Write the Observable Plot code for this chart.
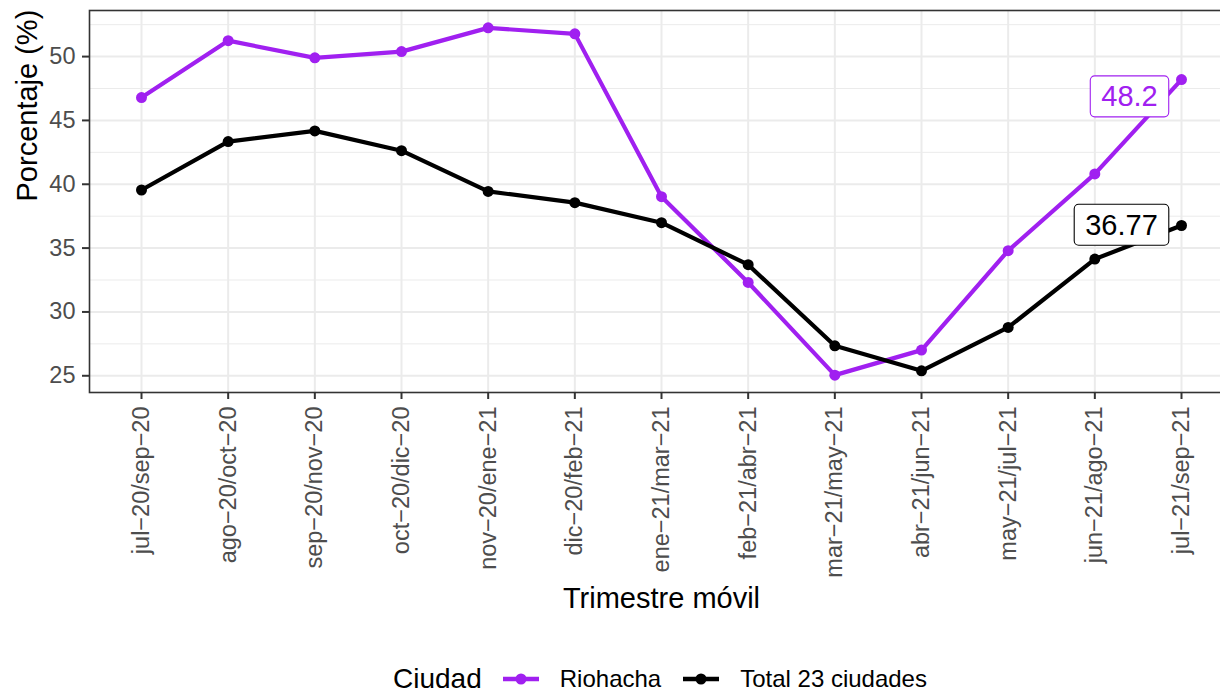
<!DOCTYPE html>
<html><head><meta charset="utf-8">
<script src="https://cdn.jsdelivr.net/npm/d3@7"></script>
<script src="https://cdn.jsdelivr.net/npm/@observablehq/plot@0.6"></script>
<style>
body{margin:0;background:#fff;font-family:"Liberation Sans",Arial,Helvetica,sans-serif;}
#wrap{position:relative;width:1220px;height:695px;overflow:hidden;background:#fff;}
#legend{position:absolute;left:100px;top:661px;width:1120px;height:36px;display:flex;align-items:center;justify-content:center;color:#000;line-height:1;}
#legend .title{font-size:28px;margin-right:20px;}
#legend .lab{font-size:24px;margin-left:20px;margin-right:21px;}
#legend .lab:last-child{margin-right:0;}
#legend svg{display:block;}
</style></head><body>
<div id="wrap"><div id="chart"></div><div id="legend"></div></div>
<script>
const periods = ["jul−20/sep−20","ago−20/oct−20","sep−20/nov−20","oct−20/dic−20","nov−20/ene−21","dic−20/feb−21","ene−21/mar−21","feb−21/abr−21","mar−21/may−21","abr−21/jun−21","may−21/jul−21","jun−21/ago−21","jul−21/sep−21"];
const riohacha = [46.79, 51.25, 49.9, 50.39, 52.25, 51.78, 39.03, 32.31, 25.05, 27.01, 34.8, 40.81, 48.2];
const total = [39.55, 43.34, 44.18, 42.63, 39.44, 38.56, 36.99, 33.7, 27.35, 25.39, 28.79, 34.14, 36.77];
const seriesNames = ["Riohacha", "Total 23 ciudades"];
const seriesColors = ["#A020F0", "#000000"];
const yMajor = [25, 30, 35, 40, 45, 50];
const yMinor = [27.5, 32.5, 37.5, 42.5, 47.5, 52.5];
const xTitle = "Trimestre móvil";
const yTitle = "Porcentaje (%)";
const legendTitle = "Ciudad";

const rows = [
  ...periods.map((p, i) => ({periodo: p, ciudad: seriesNames[0], valor: riohacha[i]})),
  ...periods.map((p, i) => ({periodo: p, ciudad: seriesNames[1], valor: total[i]}))
];
const lastP = periods[periods.length - 1];
const lastRio = rows.filter(d => d.ciudad === seriesNames[0] && d.periodo === lastP);
const lastTot = rows.filter(d => d.ciudad === seriesNames[1] && d.periodo === lastP);
const ext = d3.extent(rows, d => d.valor);
const pad = (ext[1] - ext[0]) * 0.05;
const font = "'Liberation Sans', Arial, Helvetica, sans-serif";

const chart = Plot.plot({
  width: 1233, height: 640,
  marginLeft: 89, marginRight: 0, marginTop: 10, marginBottom: 248,
  style: {fontFamily: font, fontSize: "23.5px", background: "white", color: "#000", maxWidth: "none"},
  x: {type: "point", domain: periods, padding: 0.6, round: false},
  y: {domain: [ext[0] - pad, ext[1] + pad]},
  color: {domain: seriesNames, range: seriesColors},
  marks: [
    Plot.gridY(yMinor, {stroke: "#ebebeb", strokeOpacity: 1, strokeWidth: 1}),
    Plot.gridY(yMajor, {stroke: "#ebebeb", strokeOpacity: 1, strokeWidth: 2}),
    Plot.gridX(periods, {stroke: "#ebebeb", strokeOpacity: 1, strokeWidth: 2}),
    Plot.frame({stroke: "#333333", strokeWidth: 1.6}),
    Plot.axisY(yMajor, {tickSize: 7, tickPadding: 7, fill: "#4d4d4d", stroke: "#333333", strokeWidth: 2, label: null, fontSize: 23.5}),
    Plot.axisX(periods, {tickSize: 7, tickPadding: 7, tickRotate: -90, fill: "#4d4d4d", stroke: "#333333", strokeWidth: 2, label: null, fontSize: 23.5}),
    Plot.text([yTitle], {frameAnchor: "left", dx: -62, rotate: -90, fontSize: 29, fill: "#000"}),
    Plot.text([xTitle], {frameAnchor: "bottom", dy: 215, fontSize: 29, fill: "#000"}),
    Plot.line(rows, {x: "periodo", y: "valor", z: "ciudad", stroke: "ciudad", strokeWidth: 4.2}),
    Plot.dot(rows, {x: "periodo", y: "valor", fill: "ciudad", r: 5.5}),
    Plot.text(lastRio, {x: "periodo", y: "valor", text: d => String(d.valor), fill: "ciudad", fontSize: 29, dx: -52, dy: 17.5}),
    Plot.text(lastTot, {x: "periodo", y: "valor", text: d => String(d.valor), fill: "ciudad", fontSize: 29, dx: -60, dy: 0})
  ]
});
chart.style.maxWidth = "none";
document.getElementById("chart").appendChild(chart);

// label boxes (ggrepel-style) behind the value labels
const labelSet = new Set([String(riohacha[riohacha.length - 1]), String(total[total.length - 1])]);
chart.querySelectorAll("text").forEach(t => {
  if (!labelSet.has(t.textContent)) return;
  const b = t.getBBox();
  const col = t.getAttribute("fill") || "#000";
  const r = document.createElementNS("http://www.w3.org/2000/svg", "rect");
  r.setAttribute("x", b.x - 11);
  r.setAttribute("y", b.y - 4.5);
  r.setAttribute("width", b.width + 22);
  r.setAttribute("height", b.height + 9);
  r.setAttribute("rx", 4.5);
  r.setAttribute("fill", "#fff");
  r.setAttribute("stroke", col);
  r.setAttribute("stroke-width", 1.1);
  const tr = t.getAttribute("transform");
  if (tr) r.setAttribute("transform", tr);
  t.parentNode.insertBefore(r, t);
});

// legend
const lg = document.getElementById("legend");
const tt = document.createElement("span"); tt.className = "title"; tt.textContent = legendTitle; lg.appendChild(tt);
seriesNames.forEach((n, i) => {
  const s = d3.create("svg").attr("width", 38).attr("height", 14);
  s.append("line").attr("x1", 1).attr("x2", 37).attr("y1", 7).attr("y2", 7).attr("stroke", seriesColors[i]).attr("stroke-width", 4.5);
  s.append("circle").attr("cx", 19).attr("cy", 7).attr("r", 5.5).attr("fill", seriesColors[i]);
  lg.appendChild(s.node());
  const l = document.createElement("span"); l.className = "lab"; l.textContent = n; lg.appendChild(l);
});
</script>
</body></html>
